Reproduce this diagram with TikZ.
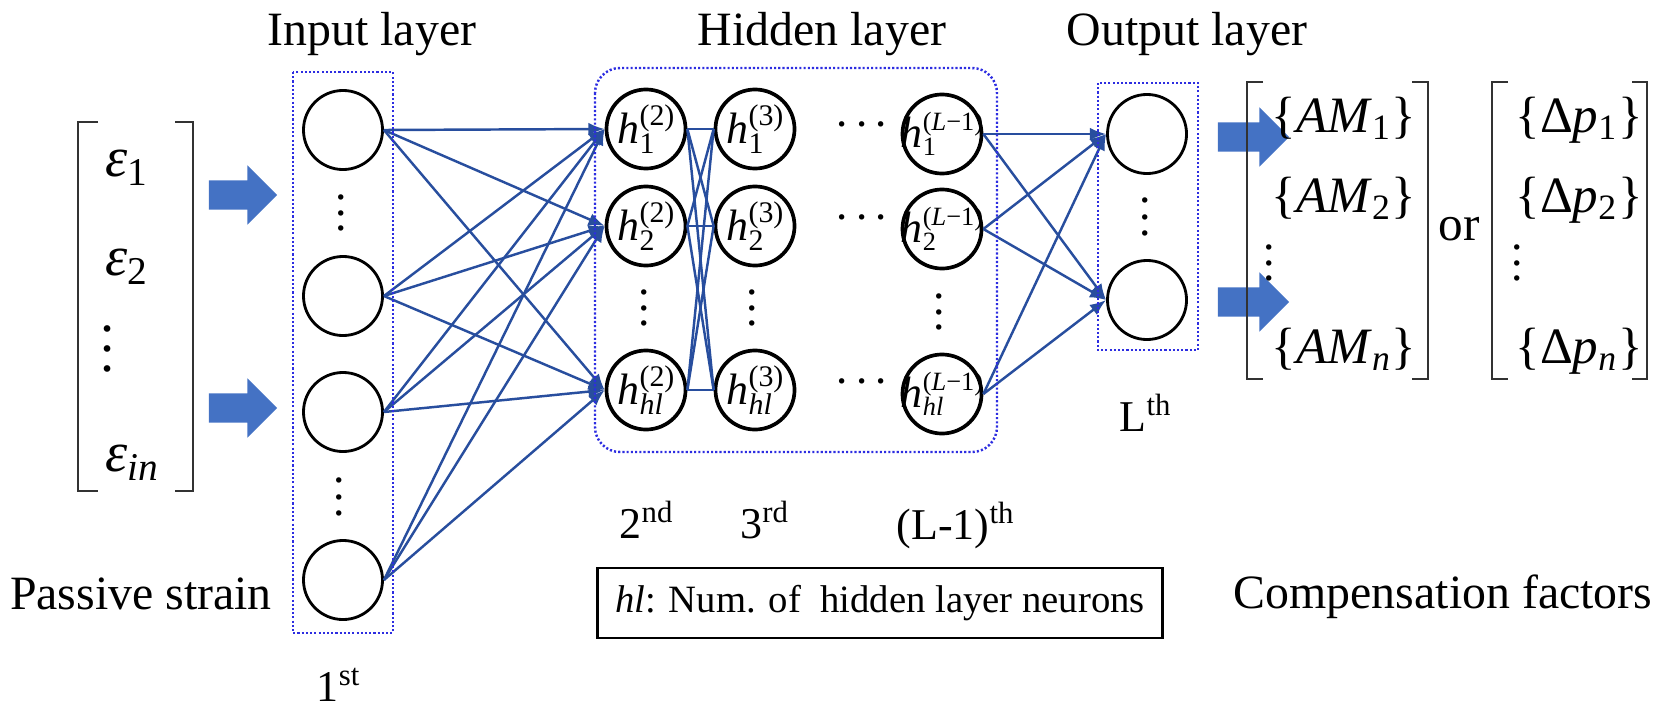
\documentclass[tikz,border=0pt]{standalone}
\usepackage{fontspec}
\setmainfont{Liberation Serif}
\usetikzlibrary{shapes, arrows.meta}

\definecolor{linkblue}{RGB}{40,78,158}
\definecolor{arrowblue}{RGB}{68,114,196}
\definecolor{boxblue}{RGB}{45,45,225}
\definecolor{brackgray}{RGB}{50,50,50}

% three stacked dots with a given pitch
\newcommand{\vdotz}[1][4.4pt]{\vbox{\baselineskip#1\lineskiplimit0pt\hbox{.}\hbox{.}\hbox{.}}}
\newcommand{\hdotz}{·\hspace{1.2pt}·\hspace{1.2pt}·}
% superscript over subscript, text mode
\newcommand{\supsub}[3][8.5]{{\fontsize{#1}{9}\selectfont\setbox0=\hbox{#2}\setbox2=\hbox{#3}%
  \ifdim\wd0>\wd2 \dimen0=\wd0 \else \dimen0=\wd2 \fi
  \rlap{\raisebox{0.62em}{\box0}}\rlap{\raisebox{-0.32em}{\box2}}\hspace{\dimen0}}}
\newcommand{\hnode}[3][8.5]{\makebox[0pt]{\textit{h}\supsub[#1]{#2}{#3}}}

\begin{document}
\begin{tikzpicture}[auto,>={Latex[length=4.6pt,width=3.6pt]}, x=0.01cm, y=-0.01cm]

\tikzstyle{neuron} = [draw, shape=circle, minimum size=0.79cm, inner sep=0pt, line width=0.8pt]
\tikzstyle{hneuron} = [neuron, line width=1.05pt, font=\fontsize{12.5}{13}\selectfont]
\tikzstyle{layerbox} = [draw=boxblue, line width=0.7pt, dash pattern=on 0.6pt off 0.6pt]
\tikzstyle{bigarrow} = [shape=single arrow, fill=arrowblue, inner sep=0.14cm, minimum height=0.68cm, single arrow head extend=0.15cm, anchor=tip]
\tikzstyle{lyrtxt} = [anchor=base, inner sep=0pt, font=\fontsize{13.6}{16}\selectfont]
\tikzstyle{ordtxt} = [anchor=base, inner sep=0pt, font=\fontsize{12.5}{15}\selectfont]
\tikzstyle{vectxt} = [anchor=base west, inner sep=0pt, font=\fontsize{14.5}{17}\selectfont]
\tikzstyle{dotsv} = [inner sep=0pt, font=\fontsize{13}{14}\selectfont]
\tikzstyle{dotsh} = [anchor=base, inner sep=0pt, font=\fontsize{13}{14}\selectfont]
\tikzstyle{bracket} = [draw=brackgray, line width=0.75pt]

\useasboundingbox (0,0) rectangle (1661,712);

% input vector
\draw[bracket] (98,122) -| (78,491) -- (98,491);
\draw[bracket] (175,122) -| (193,491) -- (175,491);
\node[vectxt, font=\fontsize{16}{18}\selectfont] (e1) at (105,176) {\textit{ε}\textsubscript{1}};
\node[vectxt, font=\fontsize{16}{18}\selectfont] (e2) at (105,275) {\textit{ε}\textsubscript{2}};
\node[dotsv, font=\fontsize{16}{18}\selectfont] (edots) at (108,349) {\vdotz[5.8pt]};
\node[vectxt, font=\fontsize{16}{18}\selectfont] (ein) at (105,471) {\textit{ε}\textsubscript{\textit{in}}};
\node[bigarrow] (arr1) at (278,195) {};
\node[bigarrow] (arr2) at (278,408) {};

% input layer
\node[neuron] (i1) at (343,130) {};
\node[neuron] (i2) at (343,296) {};
\node[neuron] (i3) at (343,412) {};
\node[neuron] (i4) at (343,580) {};
\node[dotsv] (di1) at (341,213) {\vdotz};
\node[dotsv] (di2) at (339,497) {\vdotz[4.8pt]};

% hidden layers
\node[hneuron] (a1) at (646,129) {\hnode{(2)}{1}};
\node[hneuron] (a2) at (646,226) {\hnode{(2)}{2}};
\node[hneuron] (a3) at (646,390) {\hnode{(2)}{\textit{hl}}};
\node[hneuron] (b1) at (755,129) {\hnode{(3)}{1}};
\node[hneuron] (b2) at (755,226) {\hnode{(3)}{2}};
\node[hneuron] (b3) at (755,390) {\hnode{(3)}{\textit{hl}}};
\node[hneuron] (c1) at (942,134) {\hnode[7.5]{(\textit{L}−1)}{1}};
\node[hneuron] (c2) at (942,229) {\hnode[7.5]{(\textit{L}−1)}{2}};
\node[hneuron] (c3) at (942,394) {\hnode[7.5]{(\textit{L}−1)}{\textit{hl}}};
\node[dotsv] (da) at (644,308) {\vdotz};
\node[dotsv] (db) at (752,308) {\vdotz};
\node[dotsv] (dc) at (939,312) {\vdotz};
\node[dotsh] (hd1) at (862,139) {\hdotz};
\node[dotsh] (hd2) at (862,232) {\hdotz};
\node[dotsh] (hd3) at (862,396) {\hdotz};

% output layer
\node[neuron] (o1) at (1147,134) {};
\node[neuron] (o2) at (1147,300) {};
\node[dotsv] (do) at (1145,217) {\vdotz[4.6pt]};
\node[bigarrow, minimum height=0.71cm] (arr3) at (1290,137) {};
\node[bigarrow, minimum height=0.71cm] (arr4) at (1290,302) {};

% output vectors
\draw[bracket] (1263,82) -| (1247,379) -- (1263,379);
\draw[bracket] (1412,82) -| (1428,379) -- (1412,379);
\draw[bracket] (1508,82) -| (1492,379) -- (1508,379);
\draw[bracket] (1632,82) -| (1647,379) -- (1632,379);
\node[vectxt] (am1) at (1271,132) {\{\textit{AM}\textsubscript{1}\}};
\node[vectxt] (am2) at (1271,212) {\{\textit{AM}\textsubscript{2}\}};
\node[dotsv] (amdots) at (1269,263) {\vdotz};
\node[vectxt] (amn) at (1271,363) {\{\textit{AM}\textsubscript{\textit{n}}\}};
\node[lyrtxt, font=\fontsize{14}{16}\selectfont] (ortxt) at (1459,240) {or};
\node[vectxt] (dp1) at (1515,132) {\{Δ\textit{p}\textsubscript{1}\}};
\node[vectxt] (dp2) at (1515,212) {\{Δ\textit{p}\textsubscript{2}\}};
\node[dotsv] (dpdots) at (1517,263) {\vdotz};
\node[vectxt] (dpn) at (1515,363) {\{Δ\textit{p}\textsubscript{\textit{n}}\}};

% connections
\begin{scope}[color=linkblue, line width=0.7pt]
  \foreach \i in {1,...,4}
    \foreach \j in {1,2,3}
      \draw[->] (i\i.east) -- (a\j.west);
  \foreach \i in {1,2,3}
    \foreach \j in {1,2,3}
      \draw (a\i.east) -- (b\j.west);
  \foreach \i in {1,2,3}
    \foreach \j in {1,2}
      \draw[->] (c\i.east) -- (o\j.west);
\end{scope}

% layer frames
\draw[layerbox] (293,72) rectangle (393,633);
\draw[layerbox, rounded corners=0.25cm] (595,68) rectangle (997,452);
\draw[layerbox] (1098,83) rectangle (1198,350);

% captions
\node[lyrtxt] (tin) at (372,45) {Input layer};
\node[lyrtxt] (thid) at (822,45) {Hidden layer};
\node[lyrtxt] (tout) at (1187,45) {Output layer};
\node[lyrtxt] (tpas) at (141,609) {Passive strain};
\node[lyrtxt] (tcomp) at (1443,608) {Compensation factors};
\node[ordtxt] (n1) at (339,701) {1\textsuperscript{st}};
\node[ordtxt] (n2) at (647,538) {2\textsuperscript{nd}};
\node[ordtxt] (n3) at (765,538) {3\textsuperscript{rd}};
\node[ordtxt] (nl1) at (956,539) {(L-1)\textsuperscript{th}};
\node[ordtxt] (nl) at (1146,431) {L\textsuperscript{th}};
\node[draw, line width=0.8pt, minimum width=5.64cm, minimum height=0.7cm, inner sep=0pt, font=\fontsize{11}{13}\selectfont] (note) at (880,603) {\textit{hl}: Num. of~ hidden layer neurons};

\end{tikzpicture}
\end{document}
